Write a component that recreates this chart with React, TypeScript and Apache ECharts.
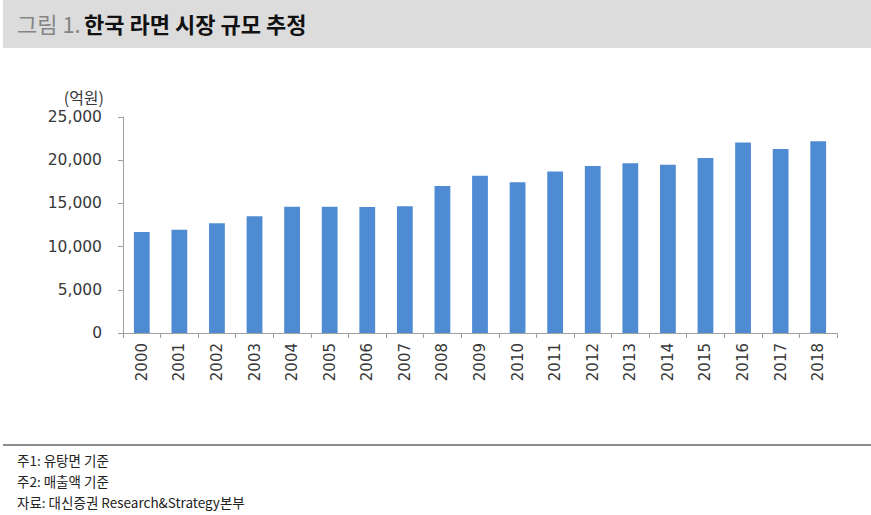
import React, { useEffect, useRef } from "react";
import * as echarts from "echarts";

const years = ["2000","2001","2002","2003","2004","2005","2006","2007","2008","2009","2010","2011","2012","2013","2014","2015","2016","2017","2018"];
const marketSize = [11700, 11950, 12700, 13500, 14600, 14600, 14580, 14680, 17000, 18200, 17450, 18700, 19320, 19650, 19480, 20250, 22050, 21300, 22180];
const yTicks = { min: 0, max: 25000, interval: 5000 };
const titlePrefix = "그림 1.";
const titleMain = "한국 라면 시장 규모 추정";
const unitLabel = "(억원)";
const notes = ["주1: 유탕면 기준", "주2: 매출액 기준", "자료: 대신증권 Research&Strategy본부"];

const KR = "'Noto Sans CJK KR', 'Noto Sans', sans-serif";
const NUM = "'DejaVu Sans', 'Liberation Sans', sans-serif";

export default function App() {
  const ref = useRef<HTMLDivElement>(null);
  useEffect(() => {
    if (!ref.current) return;
    const chart = echarts.init(ref.current, null, { renderer: "svg" });
    chart.setOption({
      animation: false,
      backgroundColor: "#ffffff",
      grid: { left: 123, right: 34, top: 117, bottom: 182 },
      xAxis: {
        type: "category",
        data: years,
        axisLine: { lineStyle: { color: "#a0a0a0", width: 1 } },
        axisTick: { show: true, length: 5, lineStyle: { color: "#a0a0a0" } },
        axisLabel: { rotate: 90, margin: 10, color: "#383838", fontSize: 15, fontFamily: NUM },
      },
      yAxis: {
        type: "value",
        min: yTicks.min,
        max: yTicks.max,
        interval: yTicks.interval,
        axisLine: { show: true, lineStyle: { color: "#a0a0a0", width: 1 } },
        axisTick: { show: true, length: 5, lineStyle: { color: "#a0a0a0" } },
        splitLine: { show: false },
        axisLabel: {
          margin: 21,
          color: "#383838",
          fontSize: 15.5,
          fontFamily: NUM,
          formatter: (v: number) => v.toLocaleString("en-US"),
        },
      },
      series: [
        {
          type: "bar",
          data: marketSize,
          barWidth: "42%",
          itemStyle: { color: "#4f8bd2" },
        },
      ],
      graphic: [
        { type: "rect", shape: { x: 3, y: 0, width: 868, height: 48 }, style: { fill: "#dcdcdc" }, silent: true },
        {
          type: "text",
          x: 17,
          y: 23,
          style: {
            text: "{p|" + titlePrefix + "} {m|" + titleMain + "}",
            verticalAlign: "middle",
            rich: {
              p: { fontSize: 22, fontFamily: KR, fill: "#858585", fontWeight: "normal" },
              m: { fontSize: 22, fontFamily: KR, fill: "#111111", fontWeight: "bold" },
            },
          },
        },
        {
          type: "text",
          x: 104,
          y: 97,
          style: { text: unitLabel, fontSize: 16, fontFamily: KR, fill: "#383838", align: "right", verticalAlign: "middle" },
        },
        { type: "line", shape: { x1: 3, y1: 445, x2: 871, y2: 445 }, style: { stroke: "#8c8c8c", lineWidth: 2 } },
        ...notes.map((t, i) => ({
          type: "text",
          x: 17,
          y: 460 + i * 21,
          style: { text: t, fontSize: 13.5, fontFamily: KR, fill: "#222222", verticalAlign: "middle" },
        })),
      ],
    });
    return () => chart.dispose();
  }, []);
  return <div ref={ref} style={{ position: "fixed", left: 0, top: 0, width: 871, height: 515 }} />;
}
